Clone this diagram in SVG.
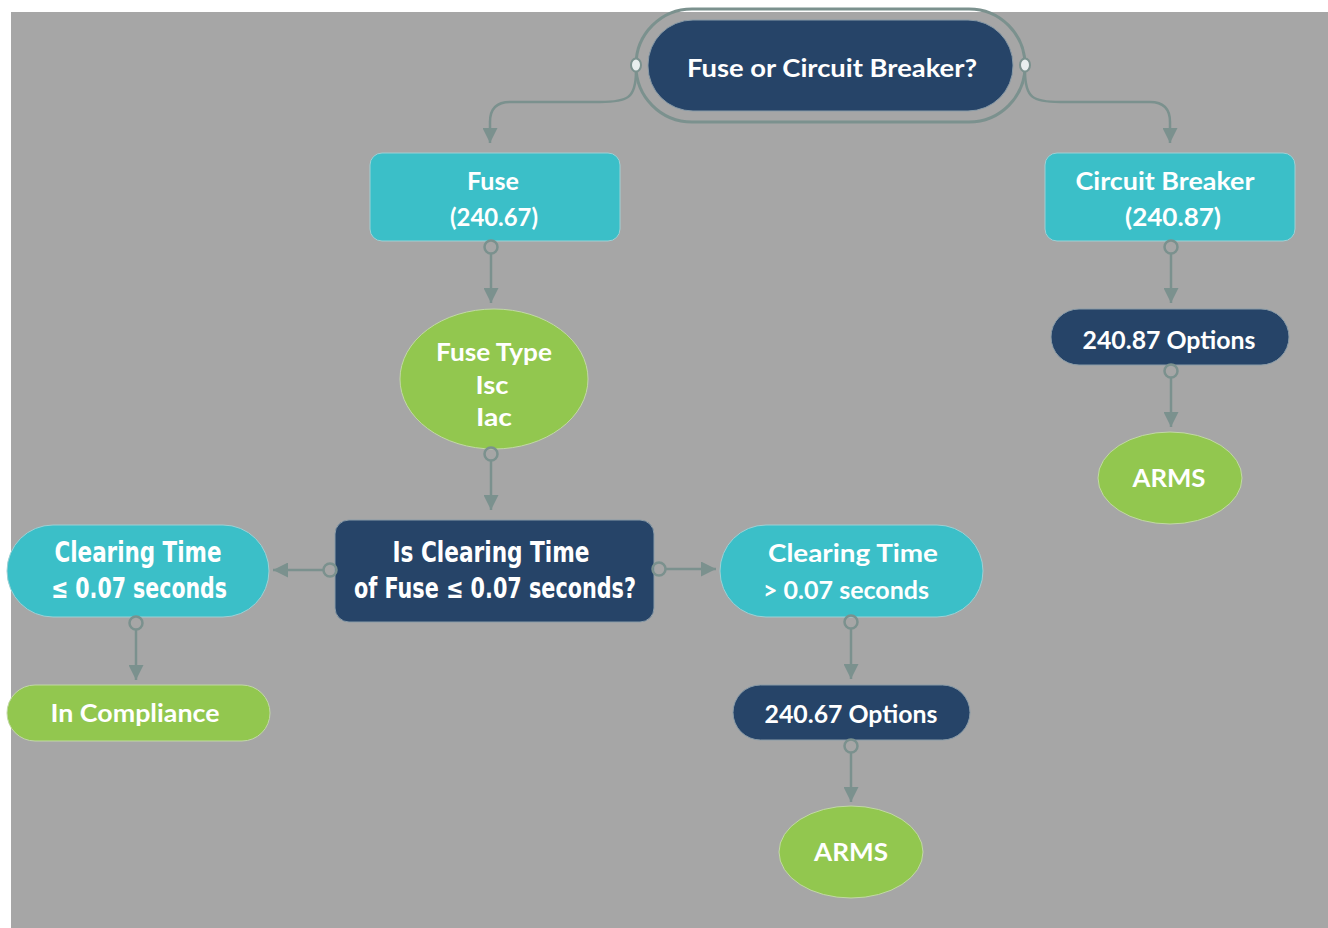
<svg xmlns="http://www.w3.org/2000/svg" width="1328" height="928" viewBox="0 0 1328 928">
<defs>
<style>
.bg{fill:#a6a6a6}
.dark{fill:#264468;stroke:#8a9ca8;stroke-width:1}
.cyan{fill:#3bbfc8;stroke:#9fd0d4;stroke-width:1}
.green{fill:#92c74f;stroke:#c2d8a6;stroke-width:1}
.t{font-family:Lato,"Open Sans","Liberation Sans",sans-serif;font-weight:bold;font-size:24px;fill:#ffffff;text-anchor:middle}
.c{font-family:"DejaVu Sans Condensed","DejaVu Sans",sans-serif;font-weight:bold;font-size:28px;fill:#ffffff;text-anchor:middle}
.ln{fill:none;stroke:#7b918e;stroke-width:2.5}
.dot{fill:none;stroke:#7b918e;stroke-width:2.5}
.dotw{fill:#e8eeee;stroke:#7b918e;stroke-width:2}
</style>
<marker id="ah" viewBox="0 0 14 14" refX="14" refY="7" markerWidth="15" markerHeight="15" markerUnits="userSpaceOnUse" orient="auto">
<path d="M0,0 L14,7 L0,14 Z" fill="#7b918e"/>
</marker>
</defs>
<rect width="1328" height="928" fill="#ffffff"/>
<rect class="bg" x="11" y="12" width="1317" height="916"/>

<g id="n-root">
<rect x="636" y="9" width="389" height="113" rx="56" fill="none" stroke="#7b918e" stroke-width="3"/>
<rect class="dark" x="648" y="20" width="365" height="91" rx="45"/>
<text class="t" x="832" y="77" textLength="290" lengthAdjust="spacingAndGlyphs">Fuse or Circuit Breaker?</text>
</g>

<g id="n-fuse">
<rect class="cyan" x="370" y="153" width="250" height="88" rx="12"/>
<text class="t" x="493" y="190" textLength="52" lengthAdjust="spacingAndGlyphs">Fuse</text>
<text class="t" x="494" y="226" textLength="88" lengthAdjust="spacingAndGlyphs">(240.67)</text>
</g>

<g id="n-fusetype">
<ellipse class="green" cx="494" cy="379" rx="94" ry="70"/>
<text class="t" x="494" y="361" textLength="116" lengthAdjust="spacingAndGlyphs">Fuse Type</text>
<text class="t" x="492" y="394" textLength="33" lengthAdjust="spacingAndGlyphs">Isc</text>
<text class="t" x="494" y="426" textLength="36" lengthAdjust="spacingAndGlyphs">Iac</text>
</g>

<g id="n-decision">
<rect class="dark" x="335" y="520" width="319" height="102" rx="14"/>
<text class="c" x="491" y="562" textLength="197" lengthAdjust="spacingAndGlyphs">Is Clearing Time</text>
<text class="c" x="495" y="598" textLength="282" lengthAdjust="spacingAndGlyphs">of Fuse ≤ 0.07 seconds?</text>
</g>

<g id="n-ct-le">
<rect class="cyan" x="7" y="525" width="262" height="92" rx="46"/>
<text class="c" x="138" y="562" textLength="167" lengthAdjust="spacingAndGlyphs">Clearing Time</text>
<text class="c" x="139" y="598" textLength="176" lengthAdjust="spacingAndGlyphs">≤ 0.07 seconds</text>
</g>

<g id="n-compliance">
<rect class="green" x="7" y="685" width="263" height="56" rx="28"/>
<text class="t" x="135" y="722" textLength="169" lengthAdjust="spacingAndGlyphs">In Compliance</text>
</g>

<g id="n-ct-gt">
<rect class="cyan" x="720" y="525" width="263" height="92" rx="46"/>
<text class="t" x="853" y="562" textLength="170" lengthAdjust="spacingAndGlyphs">Clearing Time</text>
<text class="t" x="846" y="599" textLength="166" lengthAdjust="spacingAndGlyphs">&gt; 0.07 seconds</text>
</g>

<g id="n-opt67">
<rect class="dark" x="733" y="685" width="237" height="55" rx="27.5"/>
<text class="t" x="851" y="723" textLength="173" lengthAdjust="spacingAndGlyphs">240.67 Options</text>
</g>

<g id="n-arms1">
<ellipse class="green" cx="851" cy="852" rx="72" ry="46"/>
<text class="t" x="851" y="861" textLength="74" lengthAdjust="spacingAndGlyphs">ARMS</text>
</g>

<g id="n-cb">
<rect class="cyan" x="1045" y="153" width="250" height="88" rx="12"/>
<text class="t" x="1165" y="190" textLength="179" lengthAdjust="spacingAndGlyphs">Circuit Breaker</text>
<text class="t" x="1173" y="226" textLength="96" lengthAdjust="spacingAndGlyphs">(240.87)</text>
</g>

<g id="n-opt87">
<rect class="dark" x="1051" y="309" width="238" height="56" rx="28"/>
<text class="t" x="1169" y="349" textLength="173" lengthAdjust="spacingAndGlyphs">240.87 Options</text>
</g>

<g id="n-arms2">
<ellipse class="green" cx="1170" cy="478" rx="72" ry="46"/>
<text class="t" x="1169" y="487" textLength="73" lengthAdjust="spacingAndGlyphs">ARMS</text>
</g>

<g id="connectors">
<path class="ln" d="M636,71 C636,98 628,102 600,102 L510,102 Q490,102 490,122 L490,143" marker-end="url(#ah)"/>
<path class="ln" d="M1025,71 C1025,98 1033,102 1060,102 L1150,102 Q1170,102 1170,122 L1170,143" marker-end="url(#ah)"/>
<path class="ln" d="M491,254 L491,303" marker-end="url(#ah)"/>
<path class="ln" d="M491,461 L491,510" marker-end="url(#ah)"/>
<path class="ln" d="M323,570 L273,570" marker-end="url(#ah)"/>
<path class="ln" d="M666,569 L716,569" marker-end="url(#ah)"/>
<path class="ln" d="M136,630 L136,680" marker-end="url(#ah)"/>
<path class="ln" d="M851,629 L851,679" marker-end="url(#ah)"/>
<path class="ln" d="M851,753 L851,802" marker-end="url(#ah)"/>
<path class="ln" d="M1171,254 L1171,303" marker-end="url(#ah)"/>
<path class="ln" d="M1171,378 L1171,427" marker-end="url(#ah)"/>
<ellipse class="dotw" cx="636" cy="65" rx="5" ry="6.5"/>
<ellipse class="dotw" cx="1025" cy="65" rx="5" ry="6.5"/>
<circle class="dot" cx="491" cy="247" r="6.5"/>
<circle class="dot" cx="491" cy="454" r="6.5"/>
<circle class="dot" cx="330" cy="570" r="6.5"/>
<circle class="dot" cx="659" cy="569" r="6.5"/>
<circle class="dot" cx="136" cy="623" r="6.5"/>
<circle class="dot" cx="851" cy="622" r="6.5"/>
<circle class="dot" cx="851" cy="746" r="6.5"/>
<circle class="dot" cx="1171" cy="247" r="6.5"/>
<circle class="dot" cx="1171" cy="371" r="6.5"/>
</g>
</svg>
